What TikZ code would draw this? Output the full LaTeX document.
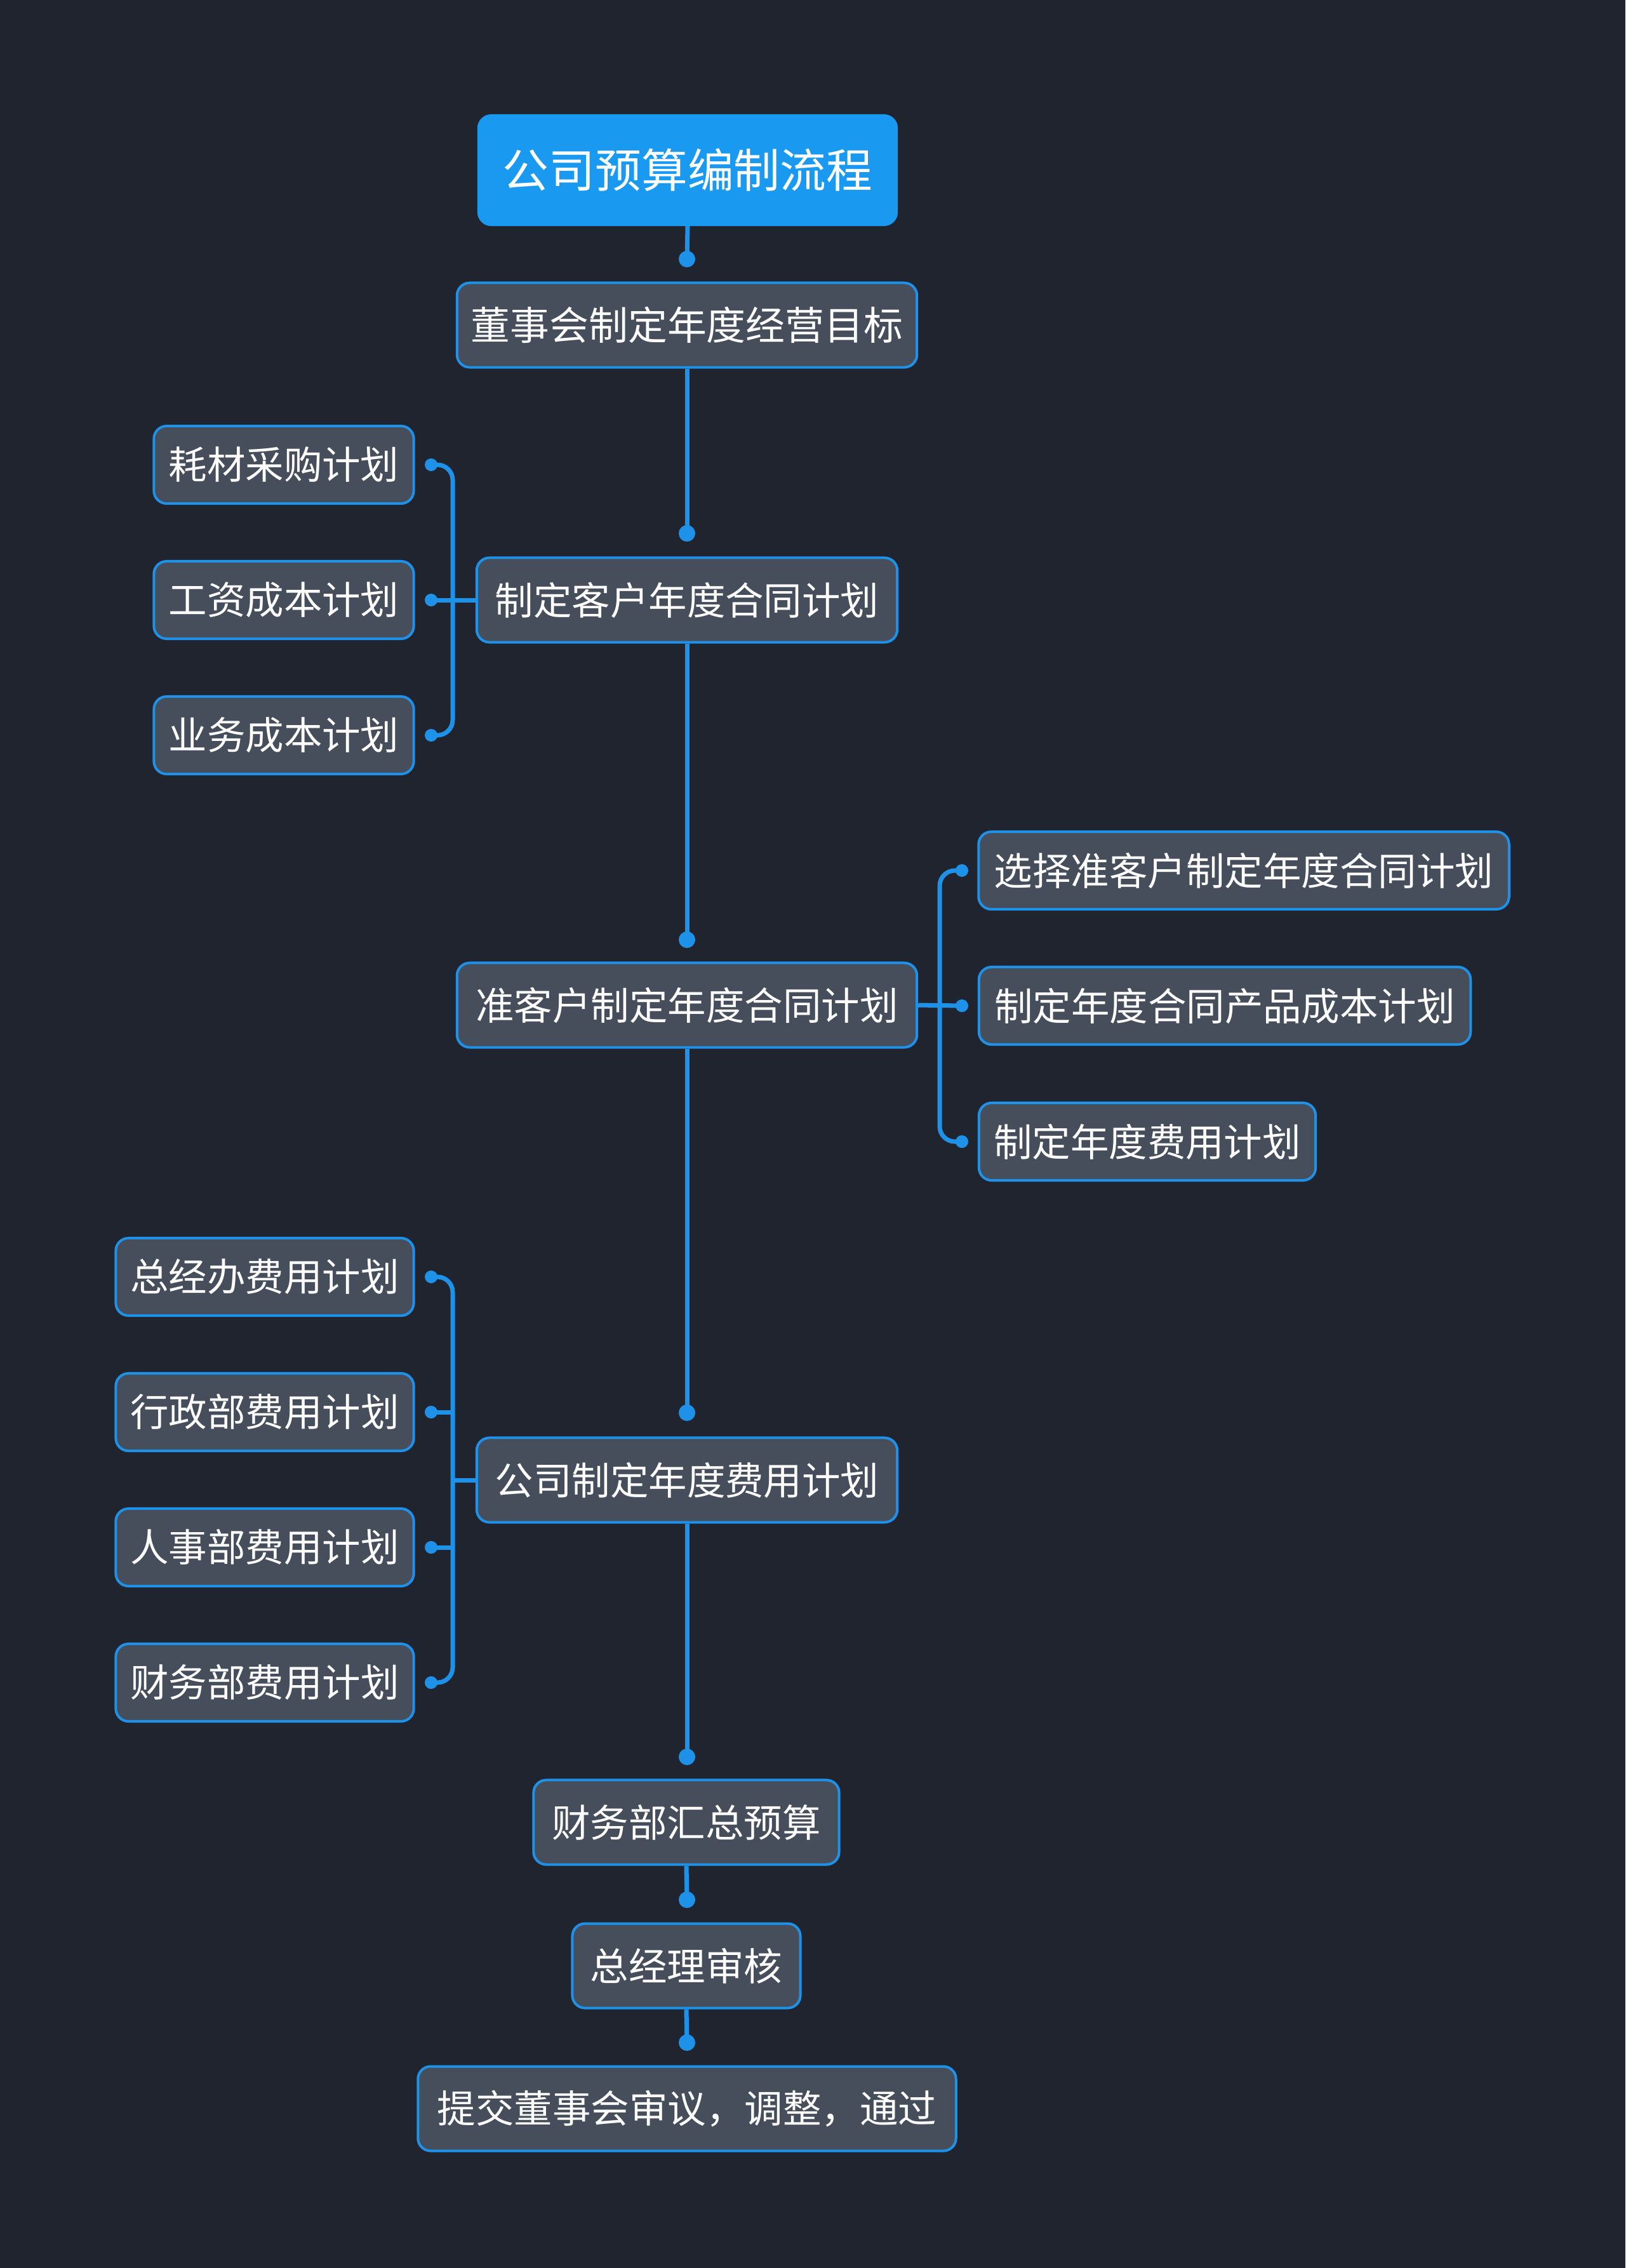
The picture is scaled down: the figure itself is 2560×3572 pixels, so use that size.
\documentclass[tikz,border=0pt]{standalone}
\usepackage{fontspec}
\setmainfont{Noto Sans CJK SC}
\begin{document}
\begin{tikzpicture}[x=0.01cm,y=-0.01cm]
\definecolor{bg}{HTML}{20242F}
\definecolor{nodefill}{HTML}{464E5C}
\definecolor{nodeborder}{HTML}{1E92E8}
\definecolor{rootfill}{HTML}{1A99F0}
\definecolor{linecol}{HTML}{1E92E8}
\tikzset{
  box/.style={draw=nodeborder, line width=0.04cm, fill=nodefill, rounded corners=0.2cm,
    text=white, inner sep=0pt, minimum height=1.22cm,
    font=\fontsize{17.2pt}{20pt}\selectfont},
  mainbox/.style={box, minimum height=1.33cm},
  bigbox/.style={mainbox, font=\fontsize{17.6pt}{21pt}\selectfont},
  rootbox/.style={box, fill=rootfill, draw=rootfill, minimum height=1.72cm,
    font=\fontsize{20.7pt}{24pt}\selectfont},
  conn/.style={draw=linecol, line width=0.07cm},
  bracket/.style={conn, rounded corners=0.24cm},
}
\fill[bg] (0,0) rectangle (2560,3572);
\useasboundingbox (0,0) rectangle (2560,3572);

% main column
\node[rootbox, minimum width=6.58cm] (root) at (1083,268) {公司预算编制流程};
\node[bigbox, minimum width=7.24cm] (n2) at (1082,512) {董事会制定年度经营目标};
\node[mainbox, minimum width=6.62cm] (n3) at (1082,945) {制定客户年度合同计划};
\node[mainbox, minimum width=7.24cm] (n4) at (1082,1583) {准客户制定年度合同计划};
\node[mainbox, minimum width=6.62cm] (n5) at (1082,2331) {公司制定年度费用计划};
\node[mainbox, minimum width=4.81cm] (n6) at (1081,2870) {财务部汇总预算};
\node[mainbox, minimum width=3.59cm] (n7) at (1081,3096) {总经理审核};
\node[mainbox, minimum width=8.47cm] (n8) at (1082,3321) {提交董事会审议，调整，通过};

\coordinate (d2) at (1082,408);
\coordinate (d3) at (1082,840);
\coordinate (d4) at (1082,1480);
\coordinate (d5) at (1082,2225);
\coordinate (d6) at (1082,2767);
\coordinate (d7) at (1082,2992);
\coordinate (d8) at (1082,3217);

\draw[conn] (root.south) -- (d2);
\draw[conn] (n2.south) -- (d3);
\draw[conn] (n3.south) -- (d4);
\draw[conn] (n4.south) -- (d5);
\draw[conn] (n5.south) -- (d6);
\draw[conn] (n6.south) -- (d7);
\draw[conn] (n7.south) -- (d8);
\foreach \d in {d2,d3,d4,d5,d6,d7,d8} \fill[linecol] (\d) circle (0.13cm);

% left group of n3
\node[box, minimum width=4.09cm] (a1) at (447,732) {耗材采购计划};
\node[box, minimum width=4.09cm] (a2) at (447,945) {工资成本计划};
\node[box, minimum width=4.09cm] (a3) at (447,1158) {业务成本计划};
\coordinate (da1) at (679,732);
\coordinate (da2) at (679,945);
\coordinate (da3) at (679,1158);
\draw[bracket] (da1) -- (713,732) -- (713,1158) -- (da3);
\draw[conn] (n3.west) -- (da2);
\foreach \d in {da1,da2,da3} \fill[linecol] (\d) circle (0.1cm);

% right group of n4
\node[box, minimum width=8.35cm] (b1) at (1959,1371) {选择准客户制定年度合同计划};
\node[box, minimum width=7.74cm] (b2) at (1929,1584) {制定年度合同产品成本计划};
\node[box, minimum width=5.30cm] (b3) at (1807,1798) {制定年度费用计划};
\coordinate (db1) at (1515,1371);
\coordinate (db2) at (1515,1584);
\coordinate (db3) at (1515,1798);
\draw[bracket] (db1) -- (1480,1371) -- (1480,1798) -- (db3);
\draw[conn] (n4.east) -- (db2);
\foreach \d in {db1,db2,db3} \fill[linecol] (\d) circle (0.1cm);

% left group of n5
\node[box, minimum width=4.69cm] (c1) at (417,2011) {总经办费用计划};
\node[box, minimum width=4.69cm] (c2) at (417,2224) {行政部费用计划};
\node[box, minimum width=4.69cm] (c3) at (417,2437) {人事部费用计划};
\node[box, minimum width=4.69cm] (c4) at (417,2650) {财务部费用计划};
\coordinate (dc1) at (679,2011);
\coordinate (dc2) at (679,2224);
\coordinate (dc3) at (679,2437);
\coordinate (dc4) at (679,2650);
\coordinate (jc) at (713,2331);
\draw[bracket] (dc1) -- (713,2011) -- (713,2650) -- (dc4);
\draw[conn] (dc2) -- (713,2224);
\draw[conn] (dc3) -- (713,2437);
\draw[conn] (n5.west) -- (jc);
\foreach \d in {dc1,dc2,dc3,dc4} \fill[linecol] (\d) circle (0.1cm);
\end{tikzpicture}
\end{document}
